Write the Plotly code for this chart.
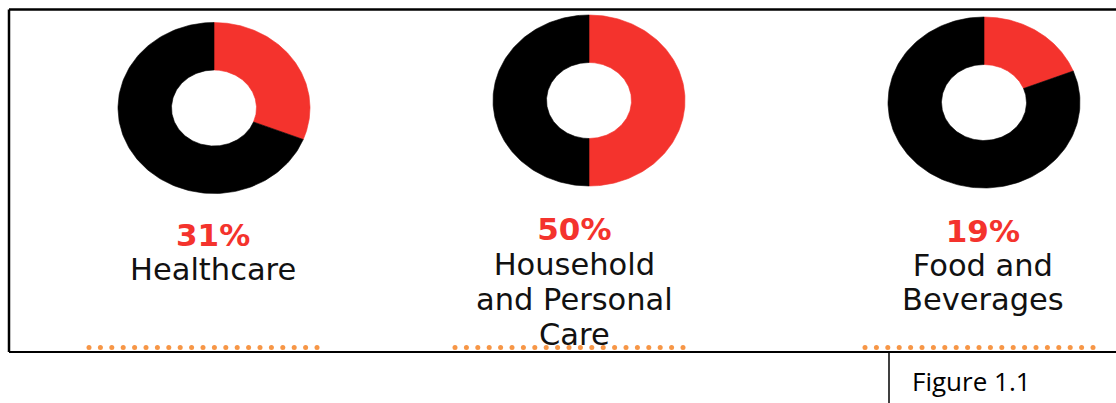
import numpy as np
import plotly.graph_objects as go

# Market share by segment
segments = [["Healthcare"], ["Household", "and Personal", "Care"], ["Food and", "Beverages"]]
shares = [31, 50, 19]
pct_labels = ["31%", "50%", "19%"]

RED = "#F4332D"
BLACK = "#000000"
ORANGE = "#F79646"

W, H = 1116, 403

# donut geometry (pixel space, y grows downward)
centers = [(214, 108), (589, 100.5), (984, 102.5)]
RX, RY = 96, 85.5
HRX, HRY = 42.5, 38

# label blocks: centre x, top y, base size (sets the line pitch)
label_x = [213, 574, 983]
label_top = [215, 209, 210.5]
label_pitch = [26.2, 26.8, 26.2]

# separator dot rows under each label
dot_rows = [(89, 317), (455, 684), (865, 1095)]
DOT_Y = 347.5
DOT_STEP = 11.4


def ring_sector(cx, cy, start_frac, end_frac, n=160):
    t = np.linspace(start_frac, end_frac, n) * 2 * np.pi
    ox = cx + RX * np.sin(t)
    oy = cy - RY * np.cos(t)
    ix = cx + HRX * np.sin(t[::-1])
    iy = cy - HRY * np.cos(t[::-1])
    xs = np.concatenate([ox, ix, ox[:1]])
    ys = np.concatenate([oy, iy, oy[:1]])
    return xs, ys


fig = go.Figure()

for (cx, cy), share in zip(centers, shares):
    f = share / 100.0
    # share slice runs clockwise from 12 o'clock, remainder fills the rest
    for a, b, col in [(0.0, f, RED), (f, 1.0, BLACK)]:
        xs, ys = ring_sector(cx, cy, a, b)
        fig.add_trace(go.Scatter(
            x=xs, y=ys, mode="lines", fill="toself",
            fillcolor=col, line=dict(width=0.6, color=col),
            hoverinfo="skip", showlegend=False,
        ))

for x0, x1 in dot_rows:
    xs = np.arange(x0, x1 + 0.5, DOT_STEP)
    fig.add_trace(go.Scatter(
        x=xs, y=np.full_like(xs, DOT_Y), mode="markers",
        marker=dict(size=5, color=ORANGE, line=dict(width=0)),
        hoverinfo="skip", showlegend=False,
    ))

annotations = []
for lx, ty, pitch, pct, lines in zip(label_x, label_top, label_pitch, pct_labels, segments):
    pct_html = f"<span style='font-size:31px;color:{RED}'><b>{pct}</b></span>"
    name_html = "<br>".join(
        f"<span style='font-size:30.5px'>{ln}</span>" for ln in lines
    )
    annotations.append(dict(
        x=lx, y=ty, xref="x", yref="y", text=pct_html + "<br>" + name_html,
        showarrow=False, xanchor="center", yanchor="top", align="center",
        font=dict(family="DejaVu Sans", size=pitch, color="#111111"),
    ))

annotations.append(dict(
    x=910, y=381, xref="x", yref="y", text="Figure 1.1", showarrow=False,
    xanchor="left", yanchor="middle",
    font=dict(family="Open Sans", size=26, color="#000000"),
))

shapes = [
    dict(type="line", x0=9, x1=W, y0=9.5, y1=9.5, xref="x", yref="y",
         line=dict(color="black", width=2.5)),
    dict(type="line", x0=9, x1=9, y0=9.5, y1=352, xref="x", yref="y",
         line=dict(color="black", width=2.5)),
    dict(type="line", x0=9, x1=W, y0=352, y1=352, xref="x", yref="y",
         line=dict(color="black", width=2)),
    dict(type="line", x0=889, x1=889, y0=352, y1=H, xref="x", yref="y",
         line=dict(color="black", width=1.5)),
]

fig.update_layout(
    width=W, height=H,
    margin=dict(l=0, r=0, t=0, b=0),
    paper_bgcolor="white", plot_bgcolor="white",
    xaxis=dict(range=[0, W], visible=False, fixedrange=True),
    yaxis=dict(range=[H, 0], visible=False, fixedrange=True),
    annotations=annotations,
    shapes=shapes,
    showlegend=False,
)

fig.write_html("out.html")
